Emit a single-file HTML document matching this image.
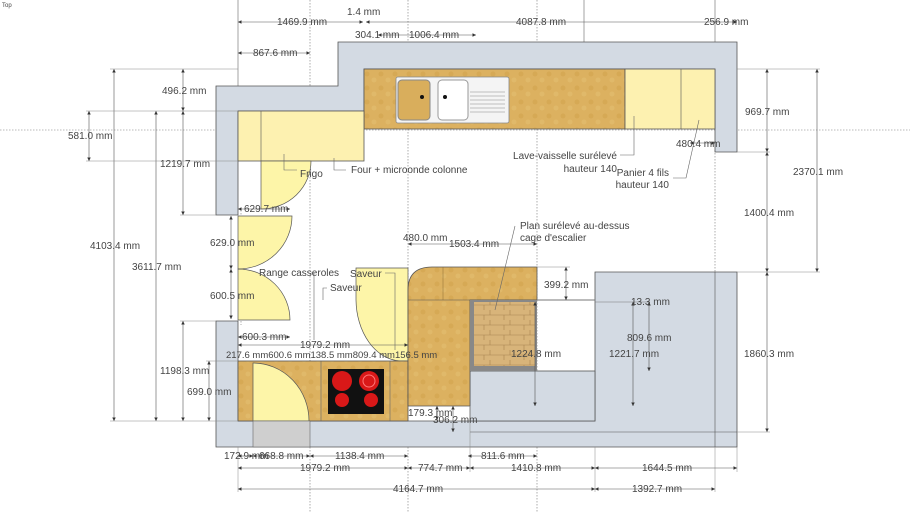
<!DOCTYPE html>
<html><head><meta charset="utf-8"><style>
html,body{margin:0;padding:0;background:#fff;}
svg{display:block;}
text{font-family:"Liberation Sans",sans-serif;font-size:10px;fill:#444;}
</style></head><body>
<svg width="910" height="512" viewBox="0 0 910 512" xmlns="http://www.w3.org/2000/svg">
<defs>
<pattern id="wood" width="14" height="14" patternUnits="userSpaceOnUse">
<rect width="14" height="14" fill="#dcb160"/>
<circle cx="3" cy="4" r="2.5" fill="#d6a955"/><circle cx="10" cy="10" r="2.5" fill="#e0b96a"/>
</pattern>
<pattern id="stone" width="20" height="10" patternUnits="userSpaceOnUse">
<rect width="20" height="10" fill="#d8b47a"/><path d="M0 5H20M10 0V5M4 5V10" stroke="#a8834f" stroke-width="0.6"/>
</pattern>
<marker id="a" viewBox="0 0 6 6" refX="6" refY="3" markerWidth="6" markerHeight="6" orient="auto-start-reverse"><path d="M0 0L6 3L0 6Z" fill="#333"/></marker>
</defs>
<text x="2" y="7" style="font-size:6px">Top</text>
<g stroke="#777" stroke-width="0.6" stroke-dasharray="1.5,1.5">
<line x1="0" y1="130" x2="910" y2="130"/>
<line x1="310" y1="0" x2="310" y2="512"/>
<line x1="408" y1="0" x2="408" y2="512"/>
<line x1="537" y1="0" x2="537" y2="512"/>
<line x1="715" y1="150" x2="715" y2="280"/>
<line x1="241" y1="210" x2="241" y2="325"/>
</g>
<g stroke="#666" stroke-width="0.6">
<line x1="238" y1="0" x2="238" y2="110"/>
<line x1="584" y1="0" x2="584" y2="70"/>
<line x1="715" y1="0" x2="715" y2="42"/>
</g>
<g fill="#d3dae3" stroke="#555" stroke-width="0.8">
<path d="M216 86H338V42H737V152H715V69H364V111H238V215H216Z"/>
<path d="M216 321H238V421H595V272H737V447H216Z"/>
<rect x="470" y="371" width="125" height="50"/>
</g>
<line x1="715" y1="272" x2="715" y2="447" stroke="#555" stroke-width="0.6"/>
<line x1="470" y1="432" x2="737" y2="432" stroke="#555" stroke-width="0.6"/>
<rect x="364" y="69" width="261" height="60" fill="url(#wood)" stroke="#555" stroke-width="0.8"/>
<rect x="625" y="69" width="90" height="60" fill="#fdf1b0" stroke="#555" stroke-width="0.8"/>
<line x1="681" y1="69" x2="681" y2="129" stroke="#555" stroke-width="0.6"/>
<rect x="396" y="77" width="113" height="46" rx="2" fill="#f4f4f4" stroke="#888" stroke-width="0.8"/>
<rect x="398" y="80" width="32" height="40" rx="4" fill="#d9ae5c" stroke="#888"/>
<rect x="438" y="80" width="30" height="40" rx="4" fill="#fff" stroke="#999"/>
<g stroke="#888" stroke-width="0.6"><line x1="470" y1="92" x2="505" y2="92"/><line x1="470" y1="96" x2="505" y2="96"/><line x1="470" y1="100" x2="505" y2="100"/><line x1="470" y1="104" x2="505" y2="104"/><line x1="470" y1="108" x2="505" y2="108"/><line x1="470" y1="112" x2="505" y2="112"/></g>
<circle cx="422" cy="97" r="2" fill="#111"/><circle cx="445" cy="97" r="2" fill="#111"/>
<rect x="238" y="111" width="126" height="50" fill="#fdf1b0" stroke="#555" stroke-width="0.8"/>
<line x1="261" y1="111" x2="261" y2="161" stroke="#555" stroke-width="0.6"/>
<g fill="#fdf5a8" stroke="#555" stroke-width="0.7">
<path d="M261 161H311A50 48 0 0 1 261 209Z"/>
<path d="M238 216H292A54 53 0 0 1 238 269Z"/>
<path d="M238 320V269A52 51 0 0 1 290 320Z"/>
<path d="M356 268H408V361H400A46 62 0 0 1 356 300Z"/>
</g>
<rect x="238" y="361" width="170" height="60" fill="url(#wood)" stroke="#555" stroke-width="0.8"/>
<path d="M253 421V363A56 58 0 0 1 309 421Z" fill="#fdf5a8" stroke="#555" stroke-width="0.7"/>
<rect x="253" y="421" width="57" height="26" fill="#cfcfcf" stroke="#666" stroke-width="0.6"/>
<line x1="321" y1="361" x2="321" y2="421" stroke="#666" stroke-width="0.6"/>
<line x1="390" y1="361" x2="390" y2="421" stroke="#666" stroke-width="0.6"/>
<rect x="328" y="369" width="56" height="45" fill="#111"/>
<circle cx="342" cy="381" r="10" fill="#d91818"/><circle cx="369" cy="381" r="10" fill="#d91818"/><circle cx="369" cy="381" r="6" fill="none" stroke="#f77" stroke-width="1"/>
<circle cx="342" cy="400" r="7" fill="#d91818"/><circle cx="371" cy="400" r="7" fill="#d91818"/>
<path d="M408 300V290Q408 267 432 267H537V300H470V406H408Z" fill="url(#wood)" stroke="#555" stroke-width="0.8"/>
<line x1="408" y1="300" x2="537" y2="300" stroke="#555" stroke-width="0.6"/>
<line x1="443" y1="267" x2="443" y2="300" stroke="#8a6a30" stroke-width="0.5"/>
<rect x="470" y="300" width="67" height="71" fill="#888"/>
<rect x="474" y="302" width="61" height="64" fill="url(#stone)"/>
<line x1="537" y1="300" x2="595" y2="300" stroke="#777" stroke-width="1"/>
<line x1="595" y1="302" x2="650" y2="302" stroke="#777" stroke-width="0.6"/>
<g stroke="#555" stroke-width="0.6" fill="none" marker-start="url(#a)" marker-end="url(#a)">
<line x1="114" y1="69" x2="114" y2="421"/>
<line x1="156" y1="111" x2="156" y2="421"/>
<line x1="183" y1="69" x2="183" y2="111"/>
<line x1="183" y1="111" x2="183" y2="215"/>
<line x1="89" y1="111" x2="89" y2="161"/>
<line x1="183" y1="321" x2="183" y2="421"/>
<line x1="209" y1="361" x2="209" y2="421"/>
<line x1="231" y1="216" x2="231" y2="269"/>
<line x1="231" y1="269" x2="231" y2="319"/>
<line x1="767" y1="69" x2="767" y2="152"/>
<line x1="767" y1="152" x2="767" y2="272"/>
<line x1="767" y1="272" x2="767" y2="432"/>
<line x1="817" y1="69" x2="817" y2="272"/>
<line x1="566" y1="267" x2="566" y2="300"/>
<line x1="649" y1="302" x2="649" y2="371"/>
<line x1="633" y1="302" x2="633" y2="406"/>
<line x1="535" y1="302" x2="535" y2="406"/>
<line x1="437" y1="406" x2="437" y2="420"/>
<line x1="453" y1="406" x2="453" y2="432"/>
</g>
<g stroke="#888" stroke-width="0.5">
<line x1="110" y1="69" x2="238" y2="69"/><line x1="86" y1="111" x2="238" y2="111"/><line x1="86" y1="161" x2="238" y2="161"/>
<line x1="180" y1="215" x2="216" y2="215"/><line x1="180" y1="321" x2="216" y2="321"/><line x1="110" y1="421" x2="238" y2="421"/><line x1="206" y1="361" x2="238" y2="361"/>
<line x1="737" y1="69" x2="820" y2="69"/><line x1="737" y1="152" x2="770" y2="152"/><line x1="737" y1="272" x2="820" y2="272"/><line x1="737" y1="432" x2="770" y2="432"/>
<line x1="537" y1="267" x2="570" y2="267"/>
<line x1="238" y1="447" x2="238" y2="492"/><line x1="595" y1="447" x2="595" y2="492"/><line x1="737" y1="447" x2="737" y2="472"/><line x1="470" y1="406" x2="470" y2="472"/>
<line x1="715" y1="447" x2="715" y2="492"/>
</g>
<g stroke="#555" stroke-width="0.6" fill="none" marker-start="url(#a)" marker-end="url(#a)">
<line x1="238" y1="22" x2="363" y2="22"/>
<line x1="366" y1="22" x2="737" y2="22"/>
<line x1="378" y1="35" x2="476" y2="35"/>
<line x1="238" y1="53" x2="310" y2="53"/>
<line x1="238" y1="209" x2="290" y2="209"/>
<line x1="238" y1="337" x2="290" y2="337"/>
<line x1="238" y1="345" x2="408" y2="345"/>
<line x1="408" y1="244" x2="537" y2="244"/>
<line x1="238" y1="456" x2="253" y2="456"/>
<line x1="253" y1="456" x2="310" y2="456"/>
<line x1="310" y1="456" x2="408" y2="456"/>
<line x1="468" y1="456" x2="537" y2="456"/>
<line x1="238" y1="468" x2="408" y2="468"/>
<line x1="408" y1="468" x2="470" y2="468"/>
<line x1="470" y1="468" x2="595" y2="468"/>
<line x1="595" y1="468" x2="737" y2="468"/>
<line x1="238" y1="489" x2="595" y2="489"/>
<line x1="595" y1="489" x2="715" y2="489"/>
<line x1="690" y1="143" x2="715" y2="143"/>
</g>
<g stroke="#666" stroke-width="0.6" fill="none">
<path d="M284 154V170H297"/><path d="M334 158V170H346"/>
<path d="M634 116V155H620"/><path d="M699 120L686 178H673"/>
<path d="M515 226L495 310"/>
<path d="M311 273H314V340"/><path d="M385 273H395V350"/><path d="M327 288H323V300"/>
</g>
<g>
<text x="347" y="15">1.4 mm</text>
<text x="277" y="25">1469.9 mm</text>
<text x="516" y="25">4087.8 mm</text>
<text x="704" y="25">256.9 mm</text>
<text x="355" y="38">304.1 mm</text>
<text x="409" y="38">1006.4 mm</text>
<text x="253" y="56">867.6 mm</text>
<text x="162" y="94">496.2 mm</text>
<text x="68" y="139">581.0 mm</text>
<text x="160" y="167">1219.7 mm</text>
<text x="90" y="249">4103.4 mm</text>
<text x="132" y="270">3611.7 mm</text>
<text x="210" y="246">629.0 mm</text>
<text x="210" y="299">600.5 mm</text>
<text x="244" y="212">629.7 mm</text>
<text x="242" y="340">600.3 mm</text>
<text x="300" y="348">1979.2 mm</text>
<text x="226" y="358" style="font-size:9.5px">217.6 mm600.6 mm138.5 mm809.4 mm156.5 mm</text>
<text x="160" y="374">1198.3 mm</text>
<text x="187" y="395">699.0 mm</text>
<text x="300" y="177">Frigo</text>
<text x="351" y="173">Four + microonde colonne</text>
<text x="617" y="159" text-anchor="end">Lave-vaisselle surélevé</text>
<text x="617" y="172" text-anchor="end">hauteur 140</text>
<text x="669" y="176" text-anchor="end">Panier 4 fils</text>
<text x="669" y="188" text-anchor="end">hauteur 140</text>
<text x="676" y="147">480.4 mm</text>
<text x="745" y="115">969.7 mm</text>
<text x="793" y="175">2370.1 mm</text>
<text x="744" y="216">1400.4 mm</text>
<text x="744" y="357">1860.3 mm</text>
<text x="520" y="229">Plan surélevé au-dessus</text>
<text x="520" y="241">cage d'escalier</text>
<text x="403" y="241">480.0 mm</text>
<text x="449" y="247">1503.4 mm</text>
<text x="259" y="276">Range casseroles</text>
<text x="350" y="277">Saveur</text>
<text x="330" y="291">Saveur</text>
<text x="544" y="288">399.2 mm</text>
<text x="631" y="305">13.3 mm</text>
<text x="627" y="341">809.6 mm</text>
<text x="609" y="357">1221.7 mm</text>
<text x="511" y="357">1224.8 mm</text>
<text x="408" y="416">179.3 mm</text>
<text x="433" y="423">306.2 mm</text>
<text x="224" y="459">172.9 mm</text>
<text x="259" y="459">668.8 mm</text>
<text x="335" y="459">1138.4 mm</text>
<text x="481" y="459">811.6 mm</text>
<text x="300" y="471">1979.2 mm</text>
<text x="418" y="471">774.7 mm</text>
<text x="511" y="471">1410.8 mm</text>
<text x="642" y="471">1644.5 mm</text>
<text x="393" y="492">4164.7 mm</text>
<text x="632" y="492">1392.7 mm</text>
</g>
</svg>
</body></html>
